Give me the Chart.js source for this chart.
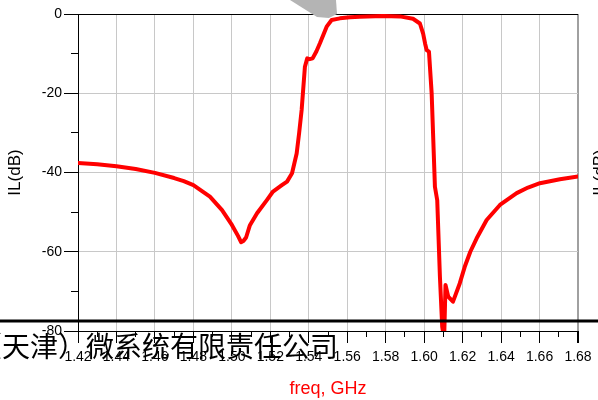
<!DOCTYPE html>
<html>
<head>
<meta charset="utf-8">
<script src="https://cdn.jsdelivr.net/npm/chart.js@4.4.1/dist/chart.umd.min.js"></script>
<style>
	body { margin: 0; background: #fff; }
	canvas { display: block; }
</style>
</head>
<body>
<canvas id="chartIL" width="598" height="400"></canvas>
<script>
// frequency points (GHz) and insertion loss (dB)
const freqs = [
	1.420, 1.430, 1.440, 1.450, 1.460, 1.470, 1.475, 1.480, 1.4886, 1.4949,
	1.5001, 1.5032, 1.5048, 1.5060, 1.5074, 1.5094, 1.5131, 1.5183, 1.5214, 1.5260,
	1.5287, 1.5313, 1.5337, 1.5350, 1.5363, 1.5380, 1.5392, 1.5405, 1.5420, 1.5440,
	1.5458, 1.5493, 1.5519, 1.5562, 1.5614, 1.5666, 1.5786, 1.5874, 1.5942, 1.5978,
	1.5995, 1.6005, 1.6013, 1.6025, 1.6039, 1.6056, 1.6068, 1.6082, 1.6094, 1.6104,
	1.6111, 1.6125, 1.6150, 1.6185, 1.6211, 1.6240, 1.6273, 1.6325, 1.6394, 1.6481,
	1.6540, 1.6602, 1.6706, 1.6800
];
const ilValues = [
	-37.6, -37.9, -38.4, -39.1, -40.1, -41.4, -42.2, -43.2, -46.1, -49.5,
	-53.3, -56.0, -57.6, -57.3, -56.4, -53.3, -50.3, -46.9, -44.8, -43.2,
	-42.3, -40.2, -35.2, -30.0, -24.2, -13.3, -11.2, -11.4, -11.2, -9.4,
	-7.4, -3.2, -1.5, -1.1, -0.8, -0.7, -0.5, -0.6, -1.2, -2.4,
	-5.0, -7.5, -9.1, -9.5, -20.0, -43.6, -47.0, -66.3, -79.0, -82.0,
	-68.4, -71.3, -72.6, -68.0, -63.8, -60.0, -56.6, -52.0, -48.2, -45.2,
	-43.8, -42.7, -41.7, -41.0
];

const xMajorTicks = [1.42, 1.44, 1.46, 1.48, 1.50, 1.52, 1.54, 1.56, 1.58, 1.60, 1.62, 1.64, 1.66, 1.68];
const xTickLabels = ['1.42', '1.44', '1.46', '1.48', '1.50', '1.52', '1.54', '1.56', '1.58', '1.60', '1.62', '1.64', '1.66', '1.68'];
const xMinorTicks = [1.43, 1.45, 1.47, 1.49, 1.51, 1.53, 1.55, 1.57, 1.59, 1.61, 1.63, 1.65, 1.67];
const yMajorTicks = [-80, -60, -40, -20, 0];
const yTickLabels = ['-80', '-60', '-40', '-20', '0'];
const yMinorTicks = [-70, -50, -30, -10];

const ctxIL = document.getElementById('chartIL').getContext('2d');
const fontLatin = 'Liberation Sans, Arial, sans-serif';

const overlay = {
	id: 'overlay',
	afterDraw: (chart) => {
		const {ctx} = chart;
		ctx.save();
		// grey pointer at the top
		ctx.fillStyle = '#b4b4b4';
		ctx.beginPath();
		ctx.moveTo(290, 0);
		ctx.lineTo(336, 0);
		ctx.lineTo(337, 14);
		ctx.lineTo(329, 18);
		ctx.lineTo(317, 17);
		ctx.closePath();
		ctx.fill();
		// black rule across the picture
		ctx.strokeStyle = '#000';
		ctx.lineWidth = 3;
		ctx.beginPath();
		ctx.moveTo(0, 321);
		ctx.lineTo(598, 321);
		ctx.stroke();
		// company text on top
		ctx.fillStyle = '#000';
		ctx.font = '28px "Noto Sans CJK SC"';
		ctx.textBaseline = 'alphabetic';
		ctx.textAlign = 'left';
		ctx.fillText('（天津）微系统有限责任公司', -26, 357);
		// cut-off axis label at the right edge
		ctx.translate(600.5, 172.5);
		ctx.rotate(-Math.PI / 2);
		ctx.font = '17px ' + fontLatin;
		ctx.textAlign = 'center';
		ctx.textBaseline = 'middle';
		ctx.fillText('IL(dB)', 0, 0);
		ctx.restore();
	}
};

let chartILConfig = {
	type: 'line',
	data: {
		datasets: [{
			data: freqs.map((f, i) => ({x: f, y: ilValues[i]})),
			xAxisID: 'x',
			yAxisID: 'y',
			borderColor: '#ff0000',
			borderWidth: 4,
			borderJoinStyle: 'round',
			borderCapStyle: 'round',
			pointRadius: 0,
			tension: 0,
			fill: false
		}]
	},
	options: {
		responsive: false,
		animation: false,
		layout: {
			padding: {top: 14, right: 20, bottom: 0, left: 0}
		},
		plugins: {
			legend: {display: false},
			tooltip: {enabled: false}
		},
		scales: {
			x: {
				type: 'linear',
				position: 'bottom',
				weight: 1,
				min: 1.42,
				max: 1.68,
				afterBuildTicks: (s) => { s.ticks = xMajorTicks.map(v => ({value: v})); },
				afterFit: (s) => { s.height = 69; },
				ticks: {
					autoSkip: false,
					maxRotation: 0,
					padding: 6,
					color: '#000',
					font: {family: fontLatin, size: 14},
					callback: (v, i) => xTickLabels[i]
				},
				grid: {
					color: (c) => c.tick && c.tick.value === 1.68 ? '#a0a0a0' : '#c8c8c8',
					lineWidth: (c) => c.tick && c.tick.value === 1.68 ? 2 : 1,
					tickColor: '#000',
					tickLength: 12
				},
				border: {color: '#000', width: 1},
				title: {
					display: true,
					text: 'freq, GHz',
					color: '#ff0000',
					font: {family: fontLatin, size: 18},
					padding: {top: 0, bottom: 0}
				}
			},
			x2: {
				type: 'linear',
				position: 'bottom',
				weight: 0,
				min: 1.42,
				max: 1.68,
				afterBuildTicks: (s) => { s.ticks = xMinorTicks.map(v => ({value: v})); },
				afterFit: (s) => { s.height = 0; },
				ticks: {display: false},
				grid: {
					drawOnChartArea: false,
					color: '#000',
					tickLength: 6
				},
				border: {display: false}
			},
			y: {
				type: 'linear',
				position: 'left',
				weight: 1,
				min: -80,
				max: 0,
				afterBuildTicks: (s) => { s.ticks = yMajorTicks.map(v => ({value: v})); },
				afterFit: (s) => { s.width = 78; },
				ticks: {
					padding: 2,
					color: '#000',
					font: {family: fontLatin, size: 14},
					callback: (v, i) => yTickLabels[i]
				},
				grid: {
					color: (c) => c.tick && (c.tick.value === 0 || c.tick.value === -80) ? '#000' : '#c8c8c8',
					tickColor: '#000',
					tickLength: 14
				},
				border: {color: '#000', width: 1},
				title: {
					display: true,
					text: 'IL(dB)',
					color: '#000',
					font: {family: fontLatin, size: 17},
					padding: {top: 5, bottom: 0}
				}
			},
			y2: {
				type: 'linear',
				position: 'left',
				weight: 0,
				min: -80,
				max: 0,
				afterBuildTicks: (s) => { s.ticks = yMinorTicks.map(v => ({value: v})); },
				afterFit: (s) => { s.width = 0; },
				ticks: {display: false},
				grid: {
					drawOnChartArea: false,
					color: '#000',
					tickLength: 7
				},
				border: {display: false}
			}
		}
	},
	plugins: [overlay]
};

new Chart(ctxIL, chartILConfig);
</script>
</body>
</html>
